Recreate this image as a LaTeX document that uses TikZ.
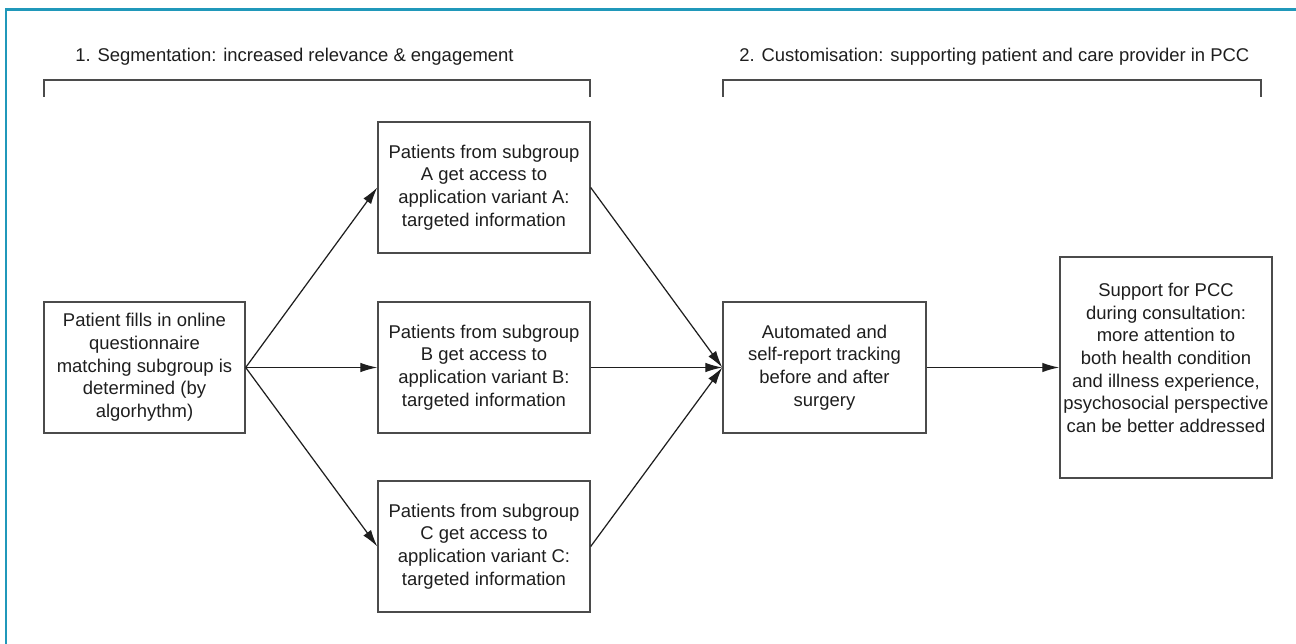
\documentclass[tikz,border=0pt]{standalone}
\usepackage{fontspec}
\setmainfont{Liberation Sans}
\usetikzlibrary{arrows.meta}
\definecolor{framecol}{RGB}{32,152,186}
\definecolor{ink}{RGB}{30,30,30}
\begin{document}
\begin{tikzpicture}[x=0.02cm, y=-0.02cm,
    txt/.style={text=ink, font=\fontsize{10.5}{12.9}\selectfont},
    box/.style={txt, draw=ink!80, line width=0.8pt, align=center, inner sep=2pt,
        minimum width=4.24cm, minimum height=2.62cm},
    arr/.style={-{Latex[length=3.4mm,width=1.9mm]}, line width=0.7pt, draw=ink},
    title/.style={txt, anchor=west, inner sep=0pt}]
\useasboundingbox (0,0) rectangle (1296,644);
\draw[framecol, line width=1.7pt] (6,644) -- (6,10) -- (1296,10);

% headings and brackets
\node[title] (seg) at (75,57) {1. Segmentation: increased relevance \& engagement};
\node[title] (cust) at (739,57) {2. Customisation: supporting patient and care provider in PCC};
\draw[ink!80, line width=0.8pt] (44,97) -- (44,80) -- (590,80) -- (590,97);
\draw[ink!80, line width=0.8pt] (723,97) -- (723,80) -- (1261,80) -- (1261,97);

% boxes
\node[box, minimum width=4.02cm] (fill) at (144.5,367.5)
    {Patient fills in online\\questionnaire\\matching subgroup is\\determined (by\\algorhythm)};
\node[box] (subA) at (484,187.5)
    {Patients from subgroup\\A get access to\\application variant A:\\targeted information};
\node[box] (subB) at (484,367.5)
    {Patients from subgroup\\B get access to\\application variant B:\\targeted information};
\node[box] (subC) at (484,546.5)
    {Patients from subgroup\\C get access to\\application variant C:\\targeted information};
\node[box, minimum width=4.06cm] (track) at (824.5,367.5)
    {Automated and\\self-report tracking\\before and after\\surgery};
\node[box, minimum height=4.42cm] (pcc) at (1166,367.5)
    {Support for PCC\\during consultation:\\more attention to\\both health condition\\and illness experience,\\psychosocial perspective\\can be better addressed\\[-2pt]};

% connectors
\draw[arr] (fill.east) -- (subA.west);
\draw[arr] (fill.east) -- (subB.west);
\draw[arr] (fill.east) -- (subC.west);
\draw[arr] (subA.east) -- (track.west);
\draw[arr] (subB.east) -- (track.west);
\draw[arr] (subC.east) -- (track.west);
\draw[arr] (track.east) -- (pcc.west);
\end{tikzpicture}
\end{document}
